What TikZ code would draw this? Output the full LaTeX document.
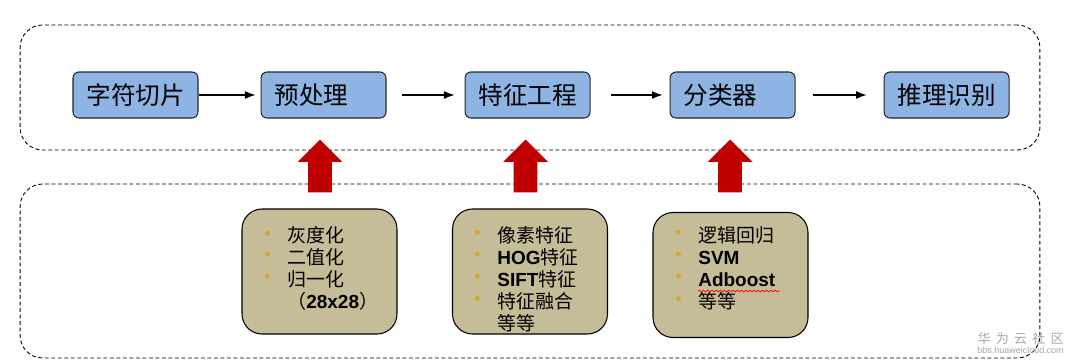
\documentclass[tikz,border=0pt]{standalone}
\usepackage{fontspec}
\usepackage{tikz}
\usetikzlibrary{shapes.arrows, arrows.meta, positioning, decorations.pathmorphing}
\newfontfamily\cjk{Noto Sans CJK SC}
\newfontfamily\arial{Liberation Sans}
\definecolor{stepblue}{HTML}{8EB4E3}
\definecolor{tanfill}{HTML}{C4BD97}
\definecolor{darkred}{HTML}{C00000}
\definecolor{dotgold}{HTML}{D4A82E}
\newcommand{\dotitem}{\makebox[0.62cm][l]{\textcolor{dotgold}{\raisebox{0.02em}{\fontsize{13}{13}\selectfont\textbullet}}}}
\newcommand{\lat}[1]{{\arial\bfseries #1}}

\begin{document}
\begin{tikzpicture}[x=0.02cm, y=-0.02cm,
  font=\cjk,
  % dashed frames round the two rows
  frame/.style={rectangle, draw=black, dash pattern=on 2.2pt off 1.5pt, line width=0.5pt, rounded corners=0.45cm},
  % pipeline stage = blue rounded box
  stage/.style={rectangle, draw=black!85, fill=stepblue, line width=0.6pt, rounded corners=0.12cm, minimum width=2.5cm, minimum height=0.92cm, text width=1.96cm, inner xsep=0.27cm, align=left, font=\cjk\fontsize{14}{16}\selectfont},
  % method box = tan rounded box with a bullet list
  toolbox/.style={rectangle, draw=black, fill=tanfill, line width=0.6pt, rounded corners=0.4cm, minimum width=3.1cm, minimum height=2.5cm},
  toollist/.style={anchor=north west, inner sep=0pt, align=left, font=\cjk\fontsize{10.8}{12.5}\selectfont},
  arrow/.style={-{Latex[length=6pt,width=4.5pt]}, line width=0.6pt},
  uparrow/.style={single arrow, fill=darkred, rotate=90, inner sep=0pt, text height=0.46cm, text depth=0pt, minimum height=1.06cm, single arrow head extend=0.21cm}
]
\useasboundingbox (0,0) rectangle (1074,363);

% ---- Frames ----
\node[frame, minimum width=20.4cm, minimum height=2.5cm] (pipeframe) at (530,87.5) {};
\node[frame, minimum width=20.4cm, minimum height=3.48cm] (toolframe) at (530,271) {};

% ---- Stages (top row) ----
\node[stage] (slice) at (135.5,95) {字符切片};
\node[stage, right=1.24cm of slice] (prep) {预处理};
\node[stage, right=1.56cm of prep] (feat) {特征工程};
\node[stage, right=1.58cm of feat] (clf) {分类器};
\node[stage, right=1.76cm of clf] (infer) {推理识别};

% ---- Methods (bottom row) ----
\node[toolbox] (prepbox) at (319.5,271.5) {};
\node[toolbox] (featbox) at (530,271.5) {};
\node[toolbox] (clfbox) at (730.5,275) {};

\node[toollist] (preplist) at (256,226) {\dotitem 灰度化\\ \dotitem 二值化\\ \dotitem 归一化\\ \hspace{0.62cm}（\lat{28x28}）};
\node[toollist] (featlist) at (466,226) {\dotitem 像素特征\\ \dotitem \lat{HOG}特征\\ \dotitem \lat{SIFT}特征\\ \dotitem 特征融合\\ \hspace{0.62cm}等等};
\node[toollist] (clflist) at (667,226) {\dotitem 逻辑回归\\ \dotitem \lat{SVM}\\ \dotitem \lat{Adboost}\\ \dotitem 等等};
\draw[red, line width=0.4pt, decorate, decoration={snake, amplitude=0.5pt, segment length=2.4pt}] (698,291) -- (780,291);

% ---- Red block arrows ----
\node[uparrow, anchor=tip] (upprep) at (320,139) {};
\node[uparrow, anchor=tip] (upfeat) at (525.5,139) {};
\node[uparrow, anchor=tip] (upclf) at (730,139) {};

% ---- Flow ----
\draw[arrow, shorten >=0.1cm] (slice) -- (prep);
\draw[arrow, shorten <=0.3cm, shorten >=0.2cm] (prep) -- (feat);
\draw[arrow, shorten <=0.4cm, shorten >=0.14cm] (feat) -- (clf);
\draw[arrow, shorten <=0.34cm, shorten >=0.34cm] (clf) -- (infer);

% ---- Watermark ----
\node[anchor=north east, inner sep=0pt, text=gray!70, font=\cjk\fontsize{7.4}{8}\selectfont] (wmark) at (1064,332) {华\hspace{3pt}为\hspace{3pt}云\hspace{3pt}社\hspace{3pt}区};
\node[anchor=north east, inner sep=0pt, text=gray!70, font=\arial\fontsize{5.1}{6}\selectfont] (wurl) at (1064,347) {bbs.huaweicloud.com};

\end{tikzpicture}
\end{document}
